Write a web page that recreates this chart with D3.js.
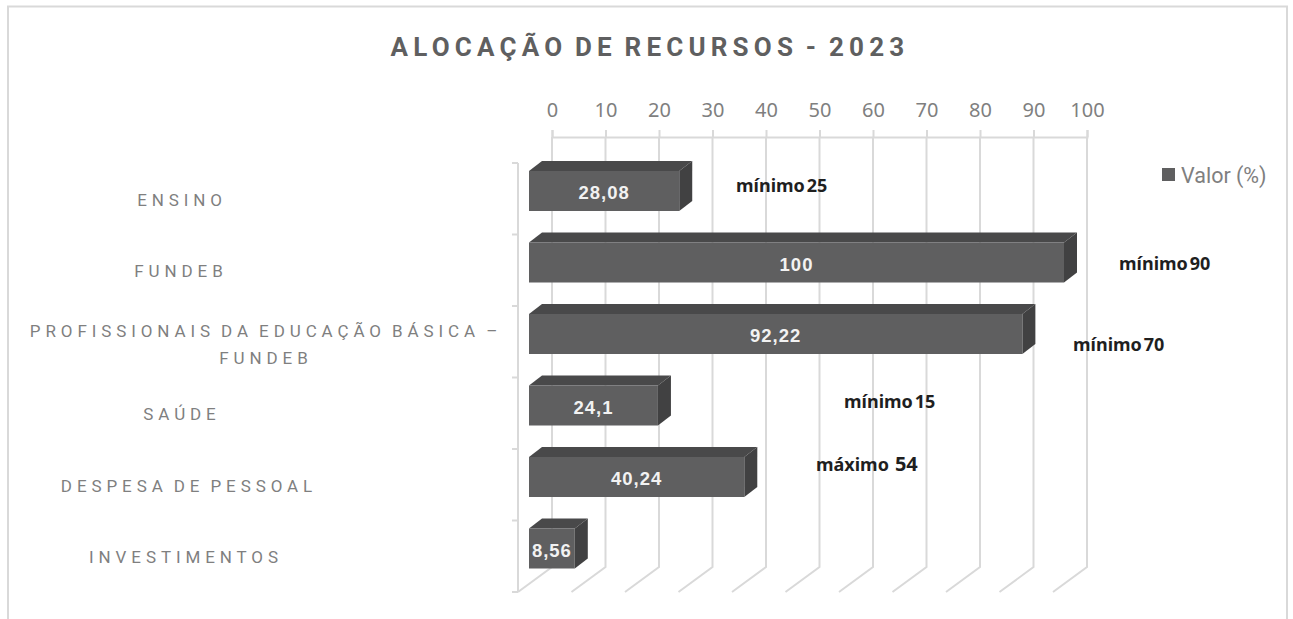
<!DOCTYPE html>
<html>
<head>
<meta charset="utf-8">
<script src="https://cdn.jsdelivr.net/npm/d3@7"></script>
<style>
  body { margin: 0; background: #fff; }
  svg { display: block; }
  text { font-family: Roboto, "Noto Sans", sans-serif; }
  .tick text { font-family: "Noto Sans", sans-serif; }
</style>
</head>
<body>
<svg id="chart" width="1293" height="619"></svg>
<script>
const categories = ["ENSINO", "FUNDEB", "PROFISSIONAIS DA EDUCAÇÃO BÁSICA – FUNDEB", "SAÚDE", "DESPESA DE PESSOAL", "INVESTIMENTOS"];
const values = [28.08, 100, 92.22, 24.1, 40.24, 8.56];
const valueLabels = ["28,08", "100", "92,22", "24,1", "40,24", "8,56"];
const limitWords = ["mínimo", "mínimo", "mínimo", "mínimo", "máximo"];
const limitValues = ["25", "90", "70", "15", "54"];
const xTicks = [0, 10, 20, 30, 40, 50, 60, 70, 80, 90, 100];

const svg = d3.select("#chart");

const gridColor = "#d9d9d9",
  textColor = "#7f7f7f",
  faceColor = "#5f5f60",
  topColor = "#49494a",
  sideColor = "#414142";

// 3d box: back wall is shifted from the front floor by this much
const depthX = 34, depthY = 25;
const barDepthX = 13, barDepthY = 10;

const x = d3.scaleLinear().domain([0, 100]).range([552, 1087]);
const y = d3.scaleBand().domain(categories).range([163, 592]);
const wallBottom = 592 - depthY;

// chart border
svg.append("path")
  .attr("d", "M8,619V6.5H1287V619")
  .attr("fill", "none")
  .attr("stroke", gridColor)
  .attr("stroke-width", 2);

svg.append("text")
  .attr("x", 650)
  .attr("y", 56)
  .attr("text-anchor", "middle")
  .attr("fill", "#5f5f60")
  .style("font-size", "26px")
  .style("font-weight", 700)
  .style("letter-spacing", "5.2px")
  .style("word-spacing", "-4px")
  .text("ALOCAÇÃO DE RECURSOS - 2023");

// back wall grid
const xAxis = d3.axisTop(x).tickValues(xTicks).tickSize(7).tickPadding(13);
const xg = svg.append("g").attr("transform", `translate(0,137)`).call(xAxis);
xg.select(".domain").attr("stroke", gridColor).attr("stroke-width", 2);
xg.selectAll(".tick line").attr("stroke", gridColor).attr("stroke-width", 2);
xg.selectAll(".tick text").attr("fill", textColor).style("font-size", "20px");

svg.append("g").selectAll("path")
  .data(xTicks)
  .join("path")
  .attr("d", d => `M${x(d)},137V${wallBottom}L${x(d) - depthX},${wallBottom + depthY}`)
  .attr("fill", "none")
  .attr("stroke", gridColor)
  .attr("stroke-width", 2);

// left wall
const wallX = x(0) - depthX;
svg.append("line")
  .attr("x1", wallX).attr("x2", wallX)
  .attr("y1", y.range()[0]).attr("y2", y.range()[1])
  .attr("stroke", gridColor).attr("stroke-width", 2);

const edges = categories.map(c => y(c)).concat(y.range()[1]);
svg.append("g").selectAll("line")
  .data(edges)
  .join("line")
  .attr("x1", wallX - 6).attr("x2", wallX)
  .attr("y1", d => d).attr("y2", d => d)
  .attr("stroke", gridColor).attr("stroke-width", 2);

// bars
const bar = svg.append("g").selectAll("g")
  .data(categories)
  .join("g")
  .attr("transform", c => `translate(${x(0) - 23},${y(c) + 8})`);

const barH = 40;
const barW = (c, i) => x(values[i]) - x(0);

bar.append("path")
  .attr("fill", topColor)
  .attr("d", (c, i) => `M0,0l${barDepthX},${-barDepthY}h${barW(c, i)}l${-barDepthX},${barDepthY}z`);
bar.append("path")
  .attr("fill", sideColor)
  .attr("d", (c, i) => `M${barW(c, i)},0l${barDepthX},${-barDepthY}v${barH}l${-barDepthX},${barDepthY}z`);
bar.append("rect")
  .attr("fill", faceColor)
  .attr("width", barW)
  .attr("height", barH);

bar.append("text")
  .attr("x", (c, i) => barW(c, i) / 2)
  .attr("y", 28)
  .attr("text-anchor", "middle")
  .attr("fill", "#f2f2f2")
  .style("font-family", "'Liberation Sans', sans-serif")
  .style("font-size", "18.5px")
  .style("font-weight", 700)
  .style("letter-spacing", "1px")
  .text((c, i) => valueLabels[i]);

// category labels, the long one wraps on two lines
const catLabel = svg.append("g").selectAll("text")
  .data(categories)
  .join("text")
  .attr("text-anchor", "middle")
  .attr("fill", textColor)
  .style("font-size", "17px")
  .style("letter-spacing", "4.9px")
  .style("word-spacing", "-3px");

catLabel.each(function (c) {
  const t = d3.select(this);
  const cy = y(c) + y.bandwidth() / 2 + 7;
  if (c.length > 30) {
    t.append("tspan").attr("x", 266).attr("y", cy - 12).text("PROFISSIONAIS DA EDUCAÇÃO BÁSICA –");
    t.append("tspan").attr("x", 266).attr("y", cy + 15).text("FUNDEB");
  } else {
    const cx = { "ENSINO": 182, "FUNDEB": 181, "SAÚDE": 182, "DESPESA DE PESSOAL": 189, "INVESTIMENTOS": 186 }[c];
    t.attr("x", cx).attr("y", cy).text(c);
  }
});

// limit notes typed on top of the chart
const noteX = [736, 1119, 1073, 844, 816];
const noteY = [192, 270, 351, 408, 471];
const note = svg.append("g").selectAll("text")
  .data(limitWords)
  .join("text")
  .attr("x", (d, i) => noteX[i])
  .attr("y", (d, i) => noteY[i])
  .attr("fill", "#1f1f1f")
  .style("font-family", "'Noto Sans', sans-serif")
  .style("font-size", "18px")
  .style("font-weight", 700);
note.append("tspan").text(d => d);
note.append("tspan")
  .attr("dx", (d, i) => i === 4 ? 6 : 2)
  .style("font-size", (d, i) => i === 4 ? "20px" : "18px")
  .text((d, i) => limitValues[i]);

// legend
svg.append("rect")
  .attr("x", 1162).attr("y", 168)
  .attr("width", 13).attr("height", 13)
  .attr("fill", faceColor);
svg.append("text")
  .attr("x", 1181).attr("y", 183)
  .attr("fill", textColor)
  .style("font-size", "21.5px")
  .text("Valor (%)");
</script>
</body>
</html>
